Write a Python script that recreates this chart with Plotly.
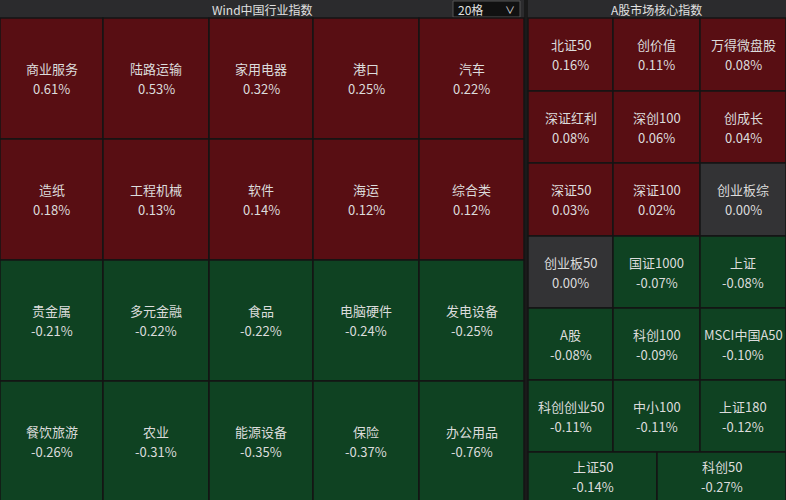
import plotly.graph_objects as go

left_names = ["商业服务","陆路运输","家用电器","港口","汽车","造纸","工程机械","软件","海运","综合类",
              "贵金属","多元金融","食品","电脑硬件","发电设备","餐饮旅游","农业","能源设备","保险","办公用品"]
left_vals = [0.61,0.53,0.32,0.25,0.22,0.18,0.13,0.14,0.12,0.12,
             -0.21,-0.22,-0.22,-0.24,-0.25,-0.26,-0.31,-0.35,-0.37,-0.76]
right_names = ["北证50","创价值","万得微盘股","深证红利","深创100","创成长","深证50","深证100","创业板综",
               "创业板50","国证1000","上证","A股","科创100","MSCI中国A50","科创创业50","中小100","上证180",
               "上证50","科创50"]
right_vals = [0.16,0.11,0.08,0.08,0.06,0.04,0.03,0.02,0.00,
              0.00,-0.07,-0.08,-0.08,-0.09,-0.10,-0.11,-0.11,-0.12,-0.14,-0.27]

RED, GREEN, GRAY = "#580e13", "#0f4222", "#333335"
def col(v):
    return RED if v > 0 else (GREEN if v < 0 else GRAY)

fig = go.Figure()
shapes, ann = [], []
shapes.append(dict(type="rect", x0=0, x1=786, y0=0, y1=18, fillcolor="#2b2b2d", line_width=0, layer="below"))
ann.append(dict(x=262, y=9, text="Wind中国行业指数", showarrow=False, font=dict(size=12, color="#e0e0e0")))
ann.append(dict(x=656, y=9, text="A股市场核心指数", showarrow=False, font=dict(size=12, color="#e0e0e0")))
shapes.append(dict(type="rect", x0=453, x1=520, y0=1, y1=17, fillcolor="#111", line=dict(color="#555", width=1)))
ann.append(dict(x=470, y=9, text="20格", showarrow=False, font=dict(size=12, color="#e0e0e0")))
ann.append(dict(x=510, y=9, text="∨", showarrow=False, font=dict(size=10, color="#e0e0e0")))
shapes.append(dict(type="rect", x0=524, x1=528, y0=0, y1=500, fillcolor="#1a1a1a", line_width=0))

def cell(x0, x1, y0, y1, name, v, yc=None):
    shapes.append(dict(type="rect", x0=x0, x1=x1, y0=y0, y1=y1, fillcolor=col(v),
                       line=dict(color="#141414", width=1.5)))
    yc = yc if yc is not None else (y0+y1)/2
    f = dict(size=13, color="#dcdcdc", family="Noto Sans CJK SC")
    ann.append(dict(x=(x0+x1)/2, y=yc-10, text=name, showarrow=False, font=f))
    ann.append(dict(x=(x0+x1)/2, y=yc+10, text=f"{v:.2f}%", showarrow=False, font=f))

lx = [0, 103, 209, 313, 419, 524]
ly = [18, 139, 260, 381, 502]
for i, (n, v) in enumerate(zip(left_names, left_vals)):
    r, c = divmod(i, 5)
    cell(lx[c], lx[c+1], ly[r], ly[r+1], n, v)

rx = [528, 613, 700, 786]
ry = [18, 91, 163, 236, 308, 380, 452, 524]
for i, (n, v) in enumerate(zip(right_names, right_vals)):
    if i < 18:
        r, c = divmod(i, 3)
        cell(rx[c], rx[c+1], ry[r], ry[r+1], n, v)
    else:
        c = i - 18
        xs = [528, 657, 786]
        cell(xs[c], xs[c+1], ry[6], ry[7], n, v, yc=476)

fig.update_layout(width=786, height=500, margin=dict(l=0, r=0, t=0, b=0),
                  paper_bgcolor="#1a1a1a", plot_bgcolor="#1a1a1a",
                  shapes=shapes, annotations=ann, showlegend=False,
                  xaxis=dict(range=[0, 786], visible=False, fixedrange=True),
                  yaxis=dict(range=[500, 0], visible=False, fixedrange=True),
                  font=dict(family="Noto Sans CJK SC"))
fig.write_html("out.html", config={"displayModeBar": False},
               post_script="document.body.style.margin='0';document.body.style.overflow='hidden';document.body.style.background='#1a1a1a';")
